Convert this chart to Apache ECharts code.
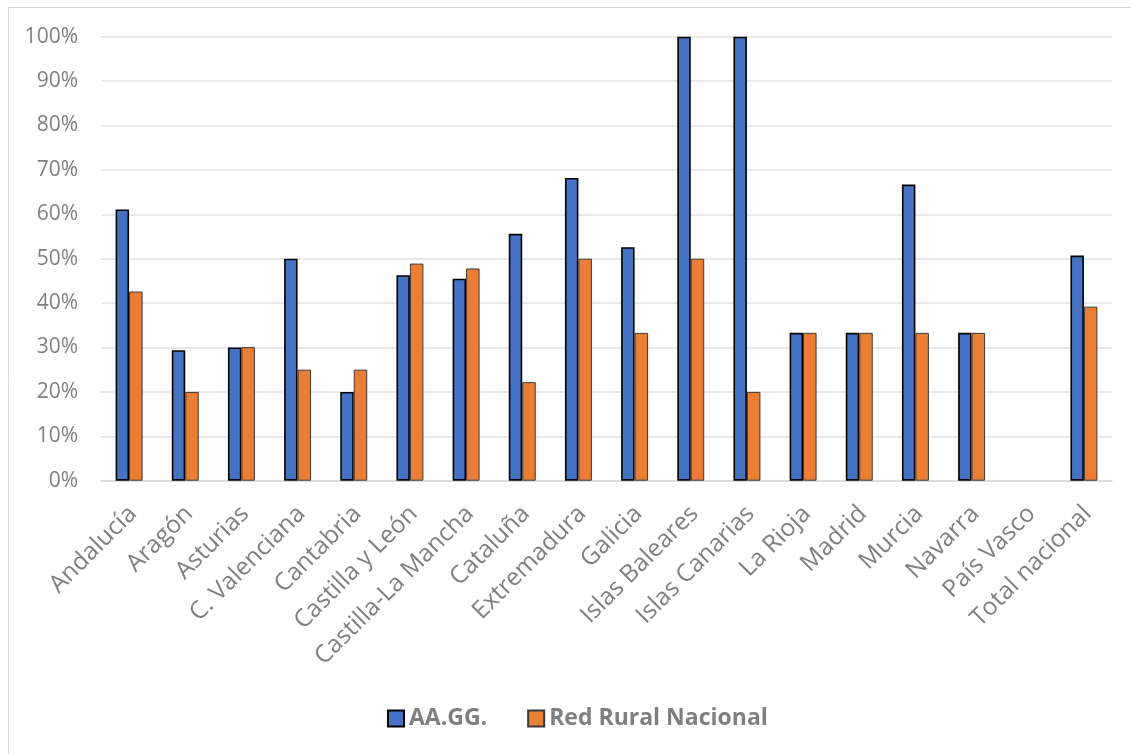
<!DOCTYPE html>
<html>
<head>
<meta charset="utf-8">
<script src="https://cdn.jsdelivr.net/npm/echarts@6/dist/echarts.min.js"></script>
<style>
  html, body { margin: 0; padding: 0; background: #fff; }
  #chart { width: 1131px; height: 754px; }
</style>
</head>
<body>
<div id="chart"></div>
<script>
// Regions and the share (%) for each series
const categories = [
  'Andalucía', 'Aragón', 'Asturias', 'C. Valenciana', 'Cantabria',
  'Castilla y León', 'Castilla-La Mancha', 'Cataluña', 'Extremadura',
  'Galicia', 'Islas Baleares', 'Islas Canarias', 'La Rioja', 'Madrid',
  'Murcia', 'Navarra', 'País Vasco', 'Total nacional'
];
const aaggValues = [61.1, 29.4, 30.0, 50.0, 20.0, 46.3, 45.5, 55.6, 68.2, 52.6, 100, 100, 33.3, 33.3, 66.7, 33.3, null, 50.7];
const redRuralValues = [42.6, 20.0, 30.1, 25.0, 25.0, 48.9, 47.8, 22.2, 50.0, 33.3, 50.0, 20.0, 33.3, 33.3, 33.3, 33.3, null, 39.2];
const seriesNames = ['AA.GG.', 'Red Rural Nacional'];
const yTicks = { min: 0, max: 100, interval: 10 };

const FONT = '"Open Sans", "Noto Sans", sans-serif';
const chart = echarts.init(document.getElementById('chart'));

chart.setOption({
  backgroundColor: '#ffffff',
  animation: false,
  textStyle: { fontFamily: FONT },
  graphic: [{
    type: 'rect',
    shape: { x: 8.5, y: 7.5, width: 1140, height: 760 },
    style: { fill: 'none', stroke: '#d9d9d9', lineWidth: 1 },
    silent: true
  }],
  grid: { left: 101, right: 19, top: 36.7, bottom: 273.3, containLabel: false },
  legend: {
    top: 702,
    left: 382,
    icon: 'rect',
    itemWidth: 16,
    itemHeight: 16,
    itemGap: 40,
    textStyle: { fontFamily: FONT, fontSize: 23, fontWeight: 'bold', color: '#7f7f7f' },
    data: seriesNames
  },
  xAxis: {
    type: 'category',
    data: categories,
    axisLine: { show: true, lineStyle: { color: '#d9d9d9', width: 1.5 } },
    axisTick: { show: false },
    axisLabel: {
      interval: 0,
      rotate: 45,
      margin: 33,
      // nudge each slanted label so its end sits just right of the bar pair
      padding: [10.6, -5.3, 0, 0],
      fontSize: 24.5,
      color: '#7f7f7f',
      fontFamily: FONT
    }
  },
  yAxis: {
    type: 'value',
    min: yTicks.min,
    max: yTicks.max,
    interval: yTicks.interval,
    axisLine: { show: false },
    axisTick: { show: false },
    splitLine: { lineStyle: { color: '#e0e0e0', width: 1.5 } },
    axisLabel: {
      margin: 23,
      fontSize: 21,
      color: '#7f7f7f',
      fontFamily: FONT,
      formatter: v => v + '%'
    }
  },
  series: [
    {
      name: seriesNames[0],
      type: 'bar',
      data: aaggValues,
      barGap: '0%',
      barCategoryGap: '52%',
      itemStyle: { color: '#4472c4', borderColor: '#000000', borderWidth: 1.6 }
    },
    {
      name: seriesNames[1],
      type: 'bar',
      data: redRuralValues,
      itemStyle: { color: '#ed7d31', borderColor: '#3a3a3a', borderWidth: 1 }
    }
  ]
});
</script>
</body>
</html>
